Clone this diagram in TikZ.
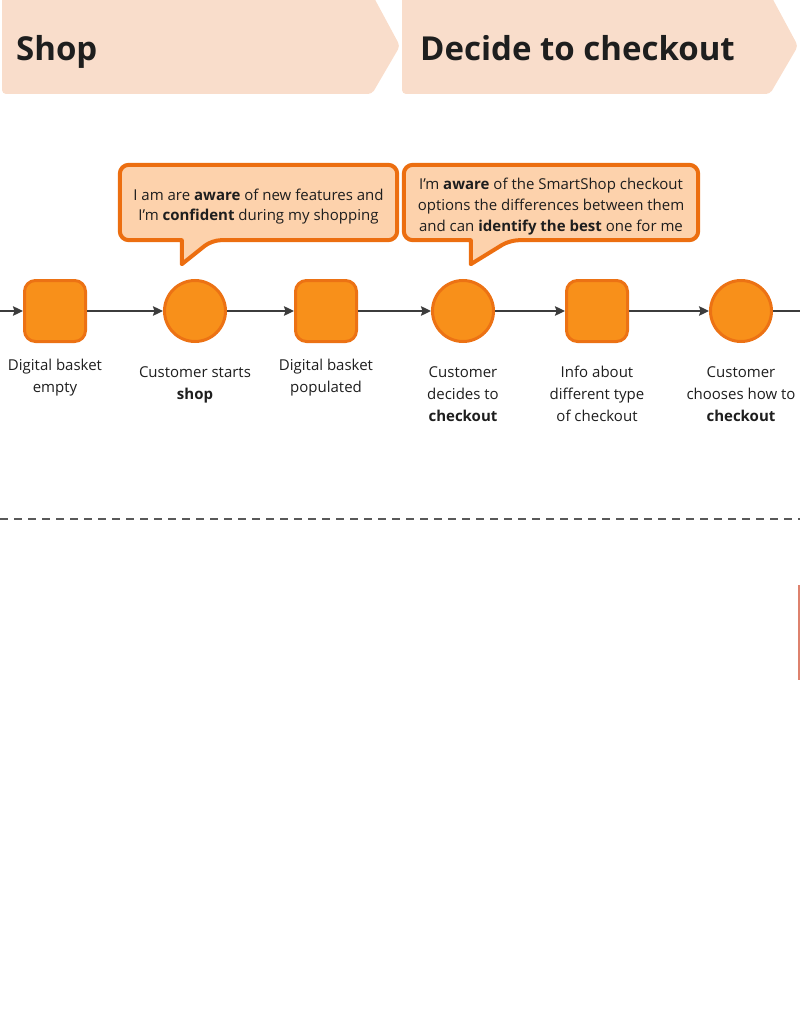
\documentclass[tikz,border=0pt]{standalone}
\usepackage{fontspec}
\setmainfont{Open Sans}
\usetikzlibrary{arrows.meta,positioning,backgrounds}
\definecolor{phasefill}{RGB}{249,221,203}
\definecolor{nodeorange}{RGB}{248,144,26}
\definecolor{nodeedge}{RGB}{236,114,20}
\definecolor{calloutfill}{RGB}{253,210,172}
\definecolor{calloutedge}{RGB}{236,110,16}
\definecolor{flowgray}{RGB}{60,60,60}
\definecolor{inkdark}{RGB}{30,30,30}
\definecolor{lanered}{RGB}{222,130,110}
\tikzset{
	>=Stealth,
	evsquare/.style={
		rectangle,
		rounded corners=11pt,
		draw=nodeedge,
		fill=nodeorange,
		line width=3pt,
		minimum size=61pt,
		inner sep=0pt
	},
	evcircle/.style={
		circle,
		draw=nodeedge,
		fill=nodeorange,
		line width=3pt,
		minimum size=61pt,
		inner sep=0pt
	},
	evlabel/.style={
		align=center,
		inner sep=0pt,
		text=inkdark,
		font=\fontsize{15}{22}\selectfont
	},
	calloutbody/.style={
		inner sep=0pt,
		minimum width=277pt,
		minimum height=75pt
	},
	callout/.style={
		draw=calloutedge,
		fill=calloutfill,
		line width=4pt,
		line join=round
	},
	callouttext/.style={
		align=center,
		inner sep=0pt,
		text=inkdark,
		font=\fontsize{15}{20.7}\selectfont
	},
	phasetitle/.style={
		anchor=base west,
		inner sep=0pt,
		text=inkdark,
		font=\fontsize{33}{40}\selectfont\bfseries
	},
	flow/.style={
		-{Stealth[length=10pt,width=9.5pt,inset=1.5pt]},
		draw=flowgray,
		line width=1.5pt
	},
	lanesep/.style={
		draw=black!65,
		line width=2pt,
		dash pattern=on 8pt off 6pt
	}
}
\begin{document}
\begin{tikzpicture}[x=1pt,y=-1pt]
	\clip (0,0) rectangle (800,1019);
	
	% --- PHASE HEADERS ---
	\fill[phasefill, rounded corners=4pt] (2,-6) -- (372,-6) -- (400,46) -- (372,94) -- (2,94) -- cycle;
	\fill[phasefill, rounded corners=4pt] (402,-6) -- (770,-6) -- (798,46) -- (770,94) -- (402,94) -- cycle;
	\node[phasetitle] (phshop) at (16,61) {Shop};
	\node[phasetitle] (phdecide) at (420,61) {Decide to checkout};
	
	% --- CALLOUTS ---
	\node[calloutbody] (cb1) at (258.5,202.5) {};
	\node[calloutbody, minimum width=294pt] (cb2) at (551,202.5) {};
	\draw[callout, rounded corners=9pt] (cb1.north west) -- (cb1.north east) -- (cb1.south east)
	-- ([xshift=92pt]cb1.south west) [sharp corners] -- ([xshift=62pt,yshift=-24pt]cb1.south west)
	-- ([xshift=62pt]cb1.south west) [rounded corners=9pt] -- (cb1.south west) -- cycle;
	\draw[callout, rounded corners=9pt] (cb2.north west) -- (cb2.north east) -- (cb2.south east)
	-- ([xshift=106pt]cb2.south west) [sharp corners] -- ([xshift=67pt,yshift=-24pt]cb2.south west)
	-- ([xshift=67pt]cb2.south west) [rounded corners=9pt] -- (cb2.south west) -- cycle;
	\node[callouttext] (ct1) at ([yshift=-4pt]cb1.center)
	{I am are \textbf{aware} of new features and\\I'm \textbf{confident} during my shopping};
	\node[callouttext] (ct2) at ([yshift=-4pt]cb2.center)
	{I'm \textbf{aware} of the SmartShop checkout\\options the differences between them\\and can \textbf{identify the best} one for me};
	
	% --- EVENTS ---
	\node[evsquare] (sq1) at (55,311) {};
	\node[evcircle] (dot1) at (195,311) {};
	\node[evsquare] (sq2) at (326,311) {};
	\node[evcircle] (dot2) at (463,311) {};
	\node[evsquare] (sq3) at (597,311) {};
	\node[evcircle] (dot3) at (741,311) {};
	
	\node[evlabel, below=16pt of sq1] (lb1) {Digital basket\\empty};
	\node[evlabel, below=23pt of dot1] (lb2) {Customer starts\\\textbf{shop}};
	\node[evlabel, below=16pt of sq2] (lb3) {Digital basket\\populated};
	\node[evlabel, below=23pt of dot2] (lb4) {Customer\\decides to\\\textbf{checkout}};
	\node[evlabel, below=23pt of sq3] (lb5) {Info about\\different type\\of checkout};
	\node[evlabel, below=23pt of dot3] (lb6) {Customer\\chooses how to\\\textbf{checkout}};
	
	% --- FLOW ---
	\coordinate (flowin) at (0,311);
	\coordinate (flowout) at (800,311);
	\draw[flow] (flowin) -- (sq1);
	\draw[flow] (sq1) -- (dot1);
	\draw[flow] (dot1) -- (sq2);
	\draw[flow] (sq2) -- (dot2);
	\draw[flow] (dot2) -- (sq3);
	\draw[flow] (sq3) -- (dot3);
	\draw[draw=flowgray, line width=1.5pt] (dot3) -- (flowout);
	
	% --- LANE SEPARATOR ---
	\coordinate (lanel) at (0,519);
	\coordinate (laner) at (800,519);
	\draw[lanesep] (lanel) -- (laner);
	\draw[draw=lanered, line width=2pt] (799,585) -- (799,680);
	
\end{tikzpicture}
\end{document}
